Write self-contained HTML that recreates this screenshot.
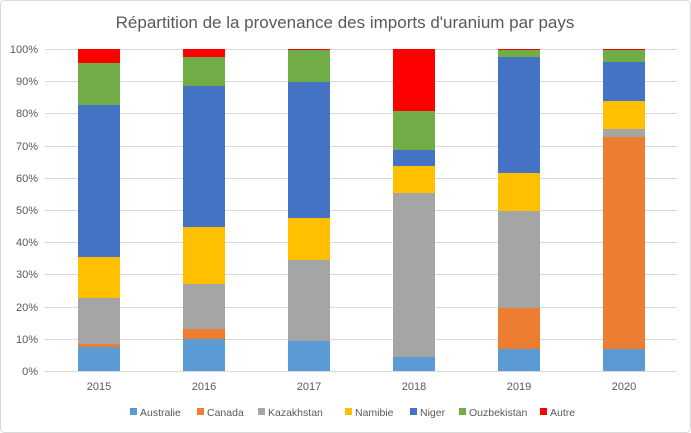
<!DOCTYPE html>
<html><head><meta charset="utf-8"><style>
body{margin:0;background:#fff;}
svg{display:block;font-family:"Liberation Sans",sans-serif;}
</style></head><body>
<svg width="691" height="433" viewBox="0 0 691 433">
<rect x="0.5" y="0.5" width="690" height="432" rx="4" fill="#fff" stroke="#d9d9d9"/>
<text x="345" y="28" font-size="17" fill="#595959" text-anchor="middle">Répartition de la provenance des imports d'uranium par pays</text>
<g stroke="#d9d9d9" stroke-width="1">
<line x1="45" x2="677" y1="49.5" y2="49.5"/><line x1="45" x2="677" y1="81.5" y2="81.5"/>
<line x1="45" x2="677" y1="113.5" y2="113.5"/><line x1="45" x2="677" y1="146.5" y2="146.5"/>
<line x1="45" x2="677" y1="178.5" y2="178.5"/><line x1="45" x2="677" y1="210.5" y2="210.5"/>
<line x1="45" x2="677" y1="242.5" y2="242.5"/><line x1="45" x2="677" y1="274.5" y2="274.5"/>
<line x1="45" x2="677" y1="307.5" y2="307.5"/><line x1="45" x2="677" y1="339.5" y2="339.5"/>
<line x1="45" x2="677" y1="371.5" y2="371.5"/>
</g>
<g font-size="11" fill="#595959" text-anchor="end">
<text x="38" y="53">100%</text><text x="38" y="85">90%</text><text x="38" y="117">80%</text>
<text x="38" y="150">70%</text><text x="38" y="182">60%</text><text x="38" y="214">50%</text>
<text x="38" y="246">40%</text><text x="38" y="278">30%</text><text x="38" y="311">20%</text>
<text x="38" y="343">10%</text><text x="38" y="375">0%</text>
</g>
<g>
<rect x="78" y="347" width="42" height="24" fill="#5B9BD5"/>
<rect x="78" y="344" width="42" height="3" fill="#ED7D31"/>
<rect x="78" y="298" width="42" height="46" fill="#A5A5A5"/>
<rect x="78" y="257" width="42" height="41" fill="#FFC000"/>
<rect x="78" y="105" width="42" height="152" fill="#4472C4"/>
<rect x="78" y="63" width="42" height="42" fill="#70AD47"/>
<rect x="78" y="49" width="42" height="14" fill="#FF0000"/>
<rect x="183" y="339" width="42" height="32" fill="#5B9BD5"/>
<rect x="183" y="329" width="42" height="10" fill="#ED7D31"/>
<rect x="183" y="284" width="42" height="45" fill="#A5A5A5"/>
<rect x="183" y="227" width="42" height="57" fill="#FFC000"/>
<rect x="183" y="86" width="42" height="141" fill="#4472C4"/>
<rect x="183" y="57" width="42" height="29" fill="#70AD47"/>
<rect x="183" y="49" width="42" height="8" fill="#FF0000"/>
<rect x="288" y="341" width="42" height="30" fill="#5B9BD5"/>
<rect x="288" y="260" width="42" height="81" fill="#A5A5A5"/>
<rect x="288" y="218" width="42" height="42" fill="#FFC000"/>
<rect x="288" y="82" width="42" height="136" fill="#4472C4"/>
<rect x="288" y="50" width="42" height="32" fill="#70AD47"/>
<rect x="288" y="49" width="42" height="1" fill="#FF0000"/>
<rect x="393" y="357" width="42" height="14" fill="#5B9BD5"/>
<rect x="393" y="193" width="42" height="164" fill="#A5A5A5"/>
<rect x="393" y="166" width="42" height="27" fill="#FFC000"/>
<rect x="393" y="150" width="42" height="16" fill="#4472C4"/>
<rect x="393" y="111" width="42" height="39" fill="#70AD47"/>
<rect x="393" y="49" width="42" height="62" fill="#FF0000"/>
<rect x="498" y="349" width="42" height="22" fill="#5B9BD5"/>
<rect x="498" y="308" width="42" height="41" fill="#ED7D31"/>
<rect x="498" y="211" width="42" height="97" fill="#A5A5A5"/>
<rect x="498" y="173" width="42" height="38" fill="#FFC000"/>
<rect x="498" y="57" width="42" height="116" fill="#4472C4"/>
<rect x="498" y="50" width="42" height="7" fill="#70AD47"/>
<rect x="498" y="49" width="42" height="1" fill="#FF0000"/>
<rect x="603" y="349" width="42" height="22" fill="#5B9BD5"/>
<rect x="603" y="137" width="42" height="212" fill="#ED7D31"/>
<rect x="603" y="129" width="42" height="8" fill="#A5A5A5"/>
<rect x="603" y="101" width="42" height="28" fill="#FFC000"/>
<rect x="603" y="62" width="42" height="39" fill="#4472C4"/>
<rect x="603" y="50" width="42" height="12" fill="#70AD47"/>
<rect x="603" y="49" width="42" height="1" fill="#FF0000"/>
</g>
<g font-size="11" fill="#595959" text-anchor="middle">
<text x="99" y="390">2015</text><text x="204" y="390">2016</text><text x="309" y="390">2017</text>
<text x="414" y="390">2018</text><text x="519" y="390">2019</text><text x="624" y="390">2020</text>
</g>
<g font-size="10.5" fill="#595959">
<rect x="130" y="408" width="7" height="7" fill="#5B9BD5"/><text x="140" y="416">Australie</text>
<rect x="197" y="408" width="7" height="7" fill="#ED7D31"/><text x="207" y="416">Canada</text>
<rect x="258" y="408" width="7" height="7" fill="#A5A5A5"/><text x="268" y="416">Kazakhstan</text>
<rect x="345" y="408" width="7" height="7" fill="#FFC000"/><text x="355" y="416">Namibie</text>
<rect x="410" y="408" width="7" height="7" fill="#4472C4"/><text x="420" y="416">Niger</text>
<rect x="459" y="408" width="7" height="7" fill="#70AD47"/><text x="469" y="416">Ouzbekistan</text>
<rect x="540" y="408" width="7" height="7" fill="#FF0000"/><text x="550" y="416">Autre</text>
</g>
</svg>
</body></html>
